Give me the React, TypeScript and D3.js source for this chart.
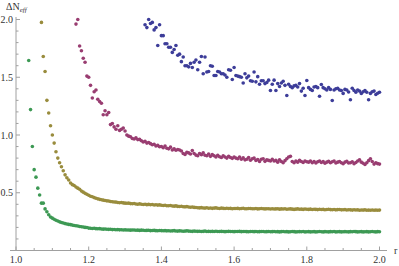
import React from 'react';
import * as d3 from 'd3';

// sampling grid of r used by every series
const R_STEP = 0.005;

const greenStart = 1.035;
const greenValues = [
  1.645, 1.22, 0.9, 0.7, 0.635, 0.54, 0.48, 0.41, 0.41, 0.36, 0.335, 0.31, 0.29, 0.28, 0.27, 0.262, 0.255,
  0.248, 0.243, 0.238, 0.233, 0.23, 0.226, 0.224, 0.22, 0.216, 0.214, 0.212, 0.208, 0.205, 0.204, 0.2, 0.199, 0.194,
  0.193, 0.191, 0.192, 0.189, 0.188, 0.189, 0.186, 0.185, 0.186, 0.184, 0.183, 0.184, 0.181, 0.182, 0.18, 0.181, 0.179, 0.18, 0.178, 0.179,
  0.177, 0.178, 0.176, 0.177, 0.178, 0.175, 0.176, 0.174, 0.176, 0.175, 0.173, 0.174, 0.175, 0.172, 0.173, 0.174, 0.172, 0.171, 0.173, 0.172,
  0.171, 0.172, 0.17, 0.171, 0.169, 0.17, 0.172, 0.169, 0.168, 0.17, 0.169, 0.167, 0.168, 0.17, 0.168, 0.167, 0.166, 0.168, 0.167, 0.166,
  0.167, 0.165, 0.166, 0.168, 0.165, 0.166, 0.164, 0.166, 0.165, 0.167, 0.164, 0.165, 0.166, 0.164, 0.163, 0.165, 0.166, 0.164, 0.165, 0.163,
  0.165, 0.164, 0.166, 0.163, 0.164, 0.165, 0.163, 0.162, 0.164, 0.165, 0.163, 0.164, 0.162, 0.163, 0.165, 0.164, 0.162, 0.163, 0.164, 0.162,
  0.163, 0.164, 0.162, 0.163, 0.161, 0.163, 0.164, 0.162, 0.163, 0.161, 0.162, 0.164, 0.163, 0.161, 0.162, 0.163, 0.162, 0.164, 0.161, 0.162,
  0.163, 0.161, 0.162, 0.163, 0.161, 0.162, 0.164, 0.162, 0.161, 0.163, 0.162, 0.161, 0.163, 0.162, 0.164, 0.161, 0.162, 0.163, 0.161, 0.162,
  0.163, 0.162, 0.161, 0.163, 0.162, 0.165, 0.163, 0.161, 0.162, 0.163, 0.161, 0.162, 0.163, 0.161, 0.162, 0.164, 0.162, 0.161, 0.163, 0.162,
];

const oliveStart = 1.07;
const oliveValues = [
  1.975, 1.68, 1.55, 1.3, 1.19, 1.08, 1.0, 0.93, 0.855, 0.8, 0.76, 0.725, 0.69, 0.655, 0.63, 0.61, 0.585, 0.57,
  0.563, 0.55, 0.54, 0.53, 0.515, 0.505, 0.495, 0.487, 0.478,
  0.47, 0.466, 0.458, 0.452, 0.447, 0.443, 0.44, 0.436, 0.433, 0.43, 0.428, 0.424, 0.422, 0.42, 0.419, 0.416, 0.414, 0.415, 0.412, 0.41,
  0.409, 0.41, 0.406, 0.405, 0.407, 0.403, 0.401, 0.404, 0.4, 0.398, 0.401, 0.397, 0.399, 0.396, 0.398, 0.394, 0.396, 0.393, 0.395, 0.392,
  0.39, 0.392, 0.388, 0.387, 0.389, 0.385, 0.384, 0.386, 0.382, 0.381, 0.383, 0.379, 0.378, 0.38, 0.376, 0.375, 0.377, 0.373, 0.372, 0.37,
  0.369, 0.371, 0.368, 0.367, 0.37, 0.366, 0.368, 0.365, 0.367, 0.369, 0.366, 0.364, 0.367, 0.365, 0.363, 0.366, 0.364, 0.365, 0.362, 0.364,
  0.363, 0.365, 0.362, 0.364, 0.366, 0.362, 0.361, 0.363, 0.364, 0.361, 0.362, 0.364, 0.36, 0.362, 0.363, 0.361, 0.36, 0.362, 0.361, 0.359,
  0.361, 0.359, 0.36, 0.362, 0.358, 0.36, 0.359, 0.361, 0.357, 0.359, 0.36, 0.358, 0.356, 0.358, 0.36, 0.357, 0.358, 0.356, 0.359, 0.357,
  0.356, 0.358, 0.355, 0.357, 0.356, 0.354, 0.357, 0.355, 0.356, 0.353, 0.355, 0.357, 0.354, 0.353, 0.355, 0.352, 0.354, 0.355, 0.352, 0.353,
  0.354, 0.351, 0.353, 0.352, 0.35, 0.353, 0.351, 0.352, 0.349, 0.351, 0.35, 0.352, 0.349, 0.35, 0.348, 0.351, 0.349, 0.35, 0.348, 0.35,
];

const purpleStart = 1.165;
const purpleValues = [
  1.96, 2.0, 1.77, 1.73, 1.665, 1.63, 1.51, 1.5, 1.43, 1.32, 1.375, 1.39, 1.31, 1.29, 1.275, 1.175, 1.21, 1.175, 1.195,
  1.09, 1.1, 1.07, 1.05, 1.08, 1.04, 1.05, 1.06, 1.035,
  1.0, 0.99, 0.985, 0.97, 0.965, 0.975, 0.96, 0.962, 0.95, 0.94, 0.945, 0.93, 0.935, 0.925, 0.915, 0.92, 0.905, 0.91, 0.898, 0.9,
  0.89, 0.905, 0.885, 0.88, 0.895, 0.87, 0.88, 0.868, 0.875, 0.87, 0.862, 0.84, 0.832, 0.85, 0.845, 0.835, 0.865, 0.84, 0.826, 0.82,
  0.84, 0.83, 0.845, 0.825, 0.82, 0.835, 0.815, 0.83, 0.82, 0.81, 0.825, 0.812, 0.805, 0.82, 0.81, 0.8, 0.815, 0.805, 0.798, 0.81,
  0.8, 0.795, 0.81, 0.79, 0.802, 0.785, 0.79, 0.805, 0.782, 0.795, 0.8, 0.78, 0.788, 0.77, 0.79, 0.795, 0.772, 0.785, 0.78, 0.775,
  0.79, 0.775, 0.78, 0.765, 0.785, 0.77, 0.76, 0.778, 0.795, 0.81, 0.815, 0.77, 0.76, 0.775, 0.765, 0.78, 0.77, 0.762, 0.775, 0.768,
  0.765, 0.775, 0.76, 0.77, 0.758, 0.768, 0.775, 0.762, 0.77, 0.755, 0.765, 0.772, 0.76, 0.768, 0.775, 0.758, 0.765, 0.77, 0.76, 0.752,
  0.765, 0.772, 0.758, 0.76, 0.768, 0.752, 0.762, 0.775, 0.785, 0.765, 0.755, 0.745, 0.76, 0.778, 0.795, 0.77, 0.748, 0.76, 0.752, 0.748,
];

const blueStart = 1.355;
const blueValues = [
  1.955, 1.93, 2.0, 1.965, 1.975, 1.91, 1.93, 1.775, 1.955, 1.86, 1.86, 1.79, 1.79, 1.76, 1.76, 1.715, 1.74, 1.775, 1.69, 1.7,
  1.635, 1.675, 1.6, 1.6, 1.59, 1.62, 1.585, 1.63, 1.65,
  1.565, 1.63, 1.68, 1.53, 1.675, 1.545, 1.55, 1.6, 1.595, 1.515, 1.515, 1.55, 1.545, 1.53, 1.53, 1.52, 1.5, 1.565, 1.56, 1.48, 1.585,
  1.515, 1.51, 1.505, 1.5, 1.45, 1.53, 1.495, 1.51, 1.47, 1.465, 1.545, 1.46, 1.505, 1.44, 1.47, 1.47, 1.445, 1.455, 1.475, 1.385,
  1.44, 1.475, 1.385, 1.445, 1.42, 1.45, 1.465, 1.43, 1.342, 1.44, 1.42, 1.41, 1.425, 1.43, 1.415, 1.445, 1.38, 1.405, 1.342, 1.472,
  1.41, 1.395, 1.385, 1.415, 1.42, 1.41, 1.335, 1.437, 1.41, 1.4, 1.39, 1.41, 1.395, 1.299, 1.39, 1.4, 1.405, 1.39, 1.385, 1.36,
  1.395, 1.39, 1.372, 1.305, 1.405, 1.385, 1.37, 1.39, 1.38, 1.36, 1.375, 1.385, 1.37, 1.305, 1.36, 1.375, 1.38, 1.35, 1.362, 1.37,
];

const xTicks = [1.0, 1.2, 1.4, 1.6, 1.8, 2.0];
const yTicks = [0.5, 1.0, 1.5, 2.0];

const series = [
  { name: 'blue', start: blueStart, values: blueValues, color: '#3d3d99' },
  { name: 'purple', start: purpleStart, values: purpleValues, color: '#993d71' },
  { name: 'olive', start: oliveStart, values: oliveValues, color: '#998c3d' },
  { name: 'green', start: greenStart, values: greenValues, color: '#3d9954' },
];

const W = 399;
const H = 266;

export default function App() {
  const x = d3.scaleLinear().domain([1, 2]).range([16, 379.5]);
  const y = d3.scaleLinear().domain([0, 2]).range([250.5, 19.5]);

  const axisColor = '#a0a0a0';
  const labelColor = '#333';
  const font = '"Liberation Serif", "DejaVu Serif", serif';

  const xMinor = d3.range(1, 2.0001, 0.05).filter(v => !xTicks.some(t => Math.abs(t - v) < 1e-6));
  const yMinor = d3.range(0.1, 2.0001, 0.1).filter(v => !yTicks.some(t => Math.abs(t - v) < 1e-6));

  return (
    <div style={{ position: 'absolute', left: 0, top: 0 }}>
      <svg width={W} height={H} style={{ display: 'block', background: '#fff' }}>
        {/* axes */}
        <line x1={10} x2={387} y1={y(0)} y2={y(0)} stroke={axisColor} strokeWidth={1} />
        <line x1={x(1)} x2={x(1)} y1={y(0)} y2={17} stroke={axisColor} strokeWidth={1} />

        {xTicks.map(t => (
          <g key={'xt' + t}>
            <line x1={x(t)} x2={x(t)} y1={y(0)} y2={y(0) - 4} stroke={axisColor} />
            <text x={x(t)} y={263} textAnchor="middle" fontSize={10} fontFamily={font} fill={labelColor}>
              {t.toFixed(1)}
            </text>
          </g>
        ))}
        {xMinor.map(t => (
          <line key={'xm' + t} x1={x(t)} x2={x(t)} y1={y(0)} y2={y(0) - 2.5} stroke={axisColor} />
        ))}

        {yTicks.map(t => (
          <g key={'yt' + t}>
            <line x1={x(1)} x2={x(1) + 4} y1={y(t)} y2={y(t)} stroke={axisColor} />
            <text x={13} y={y(t) + 3.5} textAnchor="end" fontSize={10} fontFamily={font} fill={labelColor}>
              {t.toFixed(1)}
            </text>
          </g>
        ))}
        {yMinor.map(t => (
          <line key={'ym' + t} x1={x(1)} x2={x(1) + 2.5} y1={y(t)} y2={y(t)} stroke={axisColor} />
        ))}

        <text x={6} y={10} fontSize={10} fontFamily={font} fill={labelColor}>
          ΔN<tspan fontSize={7} fontStyle="italic" dy={2}>eff</tspan>
        </text>
        <text x={394} y={254} fontSize={10} fontFamily={font} fill={labelColor}>r</text>

        {series.map(s => (
          <g key={s.name} fill={s.color}>
            {s.values.map((v, i) => (
              <circle key={i} cx={x(s.start + i * R_STEP)} cy={y(v)} r={1.8} />
            ))}
          </g>
        ))}
      </svg>
    </div>
  );
}
